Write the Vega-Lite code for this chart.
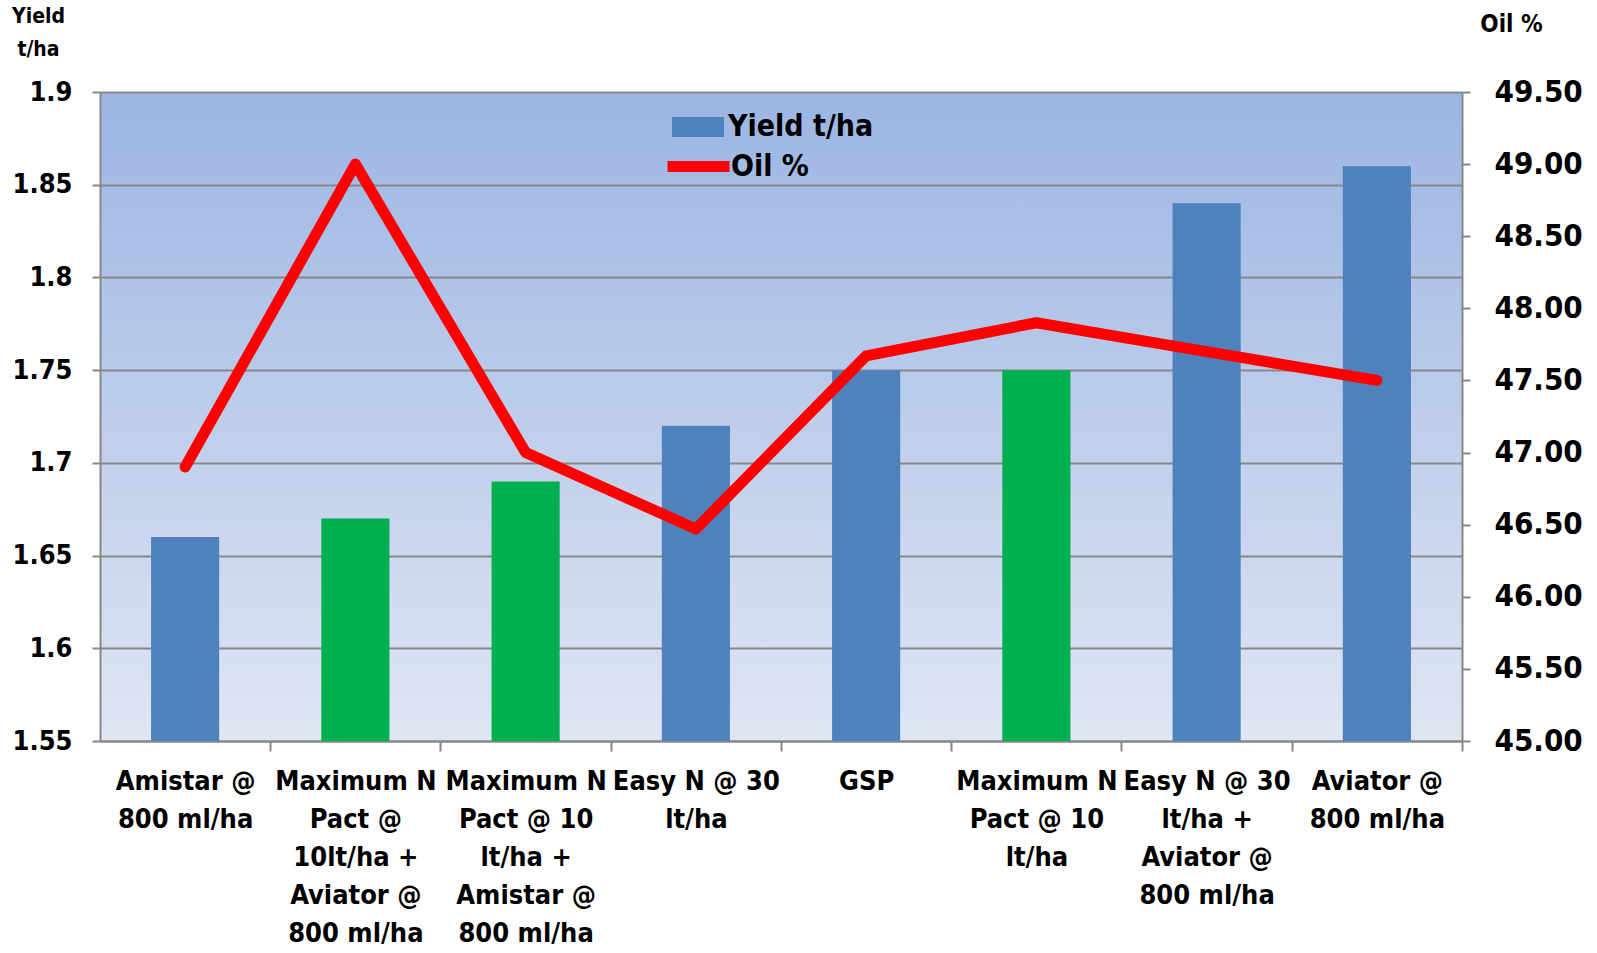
{
  "$schema": "https://vega.github.io/schema/vega-lite/v6.json",
  "autosize": {"type": "none"},
  "width": 1362,
  "height": 649,
  "padding": {"left": 100, "top": 92, "right": 135, "bottom": 212},
  "background": "white",
  "view": {
    "stroke": null,
    "fill": {
      "gradient": "linear", "x1": 0, "y1": 0, "x2": 0, "y2": 1,
      "stops": [{"offset": 0, "color": "#9bb5e3"}, {"offset": 1, "color": "#dfe6f3"}]
    }
  },
  "config": {
    "font": "DejaVu Sans Condensed, Open Sans",
    "axis": {
      "labelFont": "DejaVu Sans Condensed, Open Sans",
      "titleFont": "DejaVu Sans Condensed, Open Sans",
      "labelFontWeight": "bold",
      "labelColor": "#000000",
      "titleColor": "#000000",
      "domainColor": "#878787",
      "domainWidth": 2,
      "tickColor": "#878787",
      "tickWidth": 2
    },
    "legend": {
      "labelFont": "DejaVu Sans Condensed, Open Sans",
      "labelFontWeight": "bold",
      "labelColor": "#000000"
    }
  },
  "data": {
    "values": [
      {"treatment": "Amistar @\n800 ml/ha", "yield": 1.66, "oil": 46.9, "kind": "Yield t/ha"},
      {"treatment": "Maximum N\nPact @\n10lt/ha +\nAviator @\n800 ml/ha", "yield": 1.67, "oil": 49.0, "kind": "Maximum N Pact"},
      {"treatment": "Maximum N\nPact @ 10\nlt/ha +\nAmistar @\n800 ml/ha", "yield": 1.69, "oil": 47.0, "kind": "Maximum N Pact"},
      {"treatment": "Easy N @ 30\nlt/ha", "yield": 1.72, "oil": 46.47, "kind": "Yield t/ha"},
      {"treatment": "GSP", "yield": 1.75, "oil": 47.67, "kind": "Yield t/ha"},
      {"treatment": "Maximum N\nPact @ 10\nlt/ha", "yield": 1.75, "oil": 47.9, "kind": "Maximum N Pact"},
      {"treatment": "Easy N @ 30\nlt/ha +\nAviator @\n800 ml/ha", "yield": 1.84, "oil": 47.7, "kind": "Yield t/ha"},
      {"treatment": "Aviator @\n800 ml/ha", "yield": 1.86, "oil": 47.5, "kind": "Yield t/ha"}
    ]
  },
  "encoding": {
    "x": {
      "field": "treatment", "type": "nominal", "sort": null,
      "scale": {"paddingInner": 0.6, "paddingOuter": 0.3},
      "axis": {
        "title": null, "labelAngle": 0, "labelFontSize": 27, "labelLineHeight": 38,
        "labelExpr": "isString(datum.value) ? split(datum.value, '\\n') : ''", "labelBaseline": "top",
        "labelPadding": 17, "tickSize": 10, "tickOffset": 85.125, "labelOffset": -85.125, "labelLimit": 300
      }
    }
  },
  "layer": [
    {
      "mark": {"type": "bar", "clip": true},
      "encoding": {
        "y": {
          "field": "yield", "type": "quantitative",
          "scale": {"domain": [1.55, 1.9], "nice": false, "zero": false},
          "axis": {
            "values": [1.55, 1.6, 1.65, 1.7, 1.75, 1.8, 1.85, 1.9],
            "format": "~g", "labelFontSize": 27, "tickSize": 8, "labelPadding": 20,
            "grid": true, "gridColor": "#878787", "gridWidth": 2,
            "title": ["Yield", "t/ha"], "titleAngle": 0, "titleFontSize": 21, "titleFontWeight": "bold",
            "titleAlign": "center", "titleBaseline": "top", "titleX": -62, "titleY": -87, "titleLineHeight": 33
          }
        },
        "fill": {
          "field": "kind", "type": "nominal",
          "scale": {"domain": ["Yield t/ha", "Maximum N Pact"], "range": ["#4f81bd", "#00b050"]},
          "legend": {
            "title": null, "values": ["Yield t/ha"], "orient": "none", "legendX": 572, "legendY": 9,
            "symbolType": "M-1,-0.38H1V0.38H-1Z", "symbolSize": 2704, "symbolStrokeWidth": 0,
            "labelFontSize": 30, "labelOffset": 4
          }
        }
      }
    },
    {
      "mark": {"type": "line", "strokeWidth": 11, "strokeCap": "round", "strokeJoin": "round"},
      "encoding": {
        "y": {
          "field": "oil", "type": "quantitative",
          "scale": {"domain": [45, 49.5], "nice": false, "zero": false},
          "axis": {
            "orient": "right",
            "values": [45, 45.5, 46, 46.5, 47, 47.5, 48, 48.5, 49, 49.5],
            "format": ".2f", "labelFontSize": 31, "tickSize": 8, "labelPadding": 24, "grid": false,
            "title": "Oil %", "titleAngle": 0, "titleFontSize": 24, "titleFontWeight": "bold",
            "titleAlign": "center", "titleBaseline": "middle", "titleX": 49, "titleY": -68
          }
        },
        "stroke": {
          "datum": "Oil %", "type": "nominal",
          "scale": {"domain": ["Oil %"], "range": ["#ff0000"]},
          "legend": {
            "title": null, "orient": "none", "legendX": 562, "legendY": 38,
            "symbolType": "stroke", "symbolSize": 3844, "symbolStrokeWidth": 11,
            "labelFontSize": 30, "labelOffset": -4
          }
        }
      }
    }
  ],
  "resolve": {"scale": {"y": "independent"}}
}
